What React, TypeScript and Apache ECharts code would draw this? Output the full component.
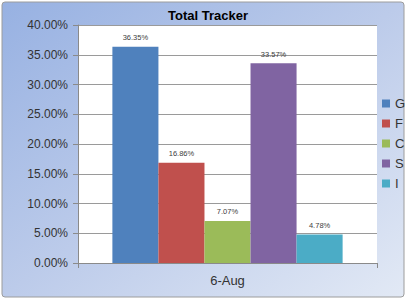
import React, { useEffect, useRef } from "react";
import * as echarts from "echarts";

const categories = ["6-Aug"];
const seriesNames = ["G", "F", "C", "S", "I"];
const seriesValues = [0.3635, 0.1686, 0.0707, 0.3357, 0.0478];
const seriesColors = ["#4F81BD", "#C0504D", "#9BBB59", "#8064A2", "#4BACC6"];
const yTicks = { min: 0, max: 0.4, interval: 0.05 };

const FONT = "'Liberation Sans', Arial, sans-serif";

export default function App() {
  const ref = useRef<HTMLDivElement>(null);
  useEffect(() => {
    if (!ref.current) return;
    const chart = echarts.init(ref.current, null, { renderer: "svg" });
    chart.setOption({
      animation: false,
      backgroundColor: "#ffffff",
      graphic: [
        {
          type: "rect",
          z: -10,
          silent: true,
          shape: { x: 2, y: 2, width: 402, height: 295, r: 3 },
          style: {
            fill: new echarts.graphic.LinearGradient(0, 0, 1, 1, [
              { offset: 0, color: "#97b1e2" },
              { offset: 0.5, color: "#bccbea" },
              { offset: 1, color: "#e2e9f5" },
            ]),
            stroke: "#9c9c9c",
            lineWidth: 1,
          },
        },
      ],
      title: {
        text: "Total Tracker",
        left: 203,
        top: 4,
        textAlign: "center",
        textStyle: { fontFamily: FONT, fontSize: 13, fontWeight: "bold", color: "#000" },
      },
      legend: {
        orient: "vertical",
        left: 382,
        top: 97,
        padding: 0,
        itemWidth: 8,
        itemHeight: 8,
        itemGap: 7,
        icon: "rect",
        data: seriesNames,
        textStyle: { fontFamily: FONT, fontSize: 13, color: "#333" },
      },
      grid: {
        left: 78,
        right: 30,
        top: 25,
        bottom: 37,
        show: true,
        backgroundColor: "#ffffff",
        borderWidth: 0,
      },
      xAxis: {
        type: "category",
        data: categories,
        axisLine: { show: true, lineStyle: { color: "#8a8a8a", width: 1 } },
        axisTick: { show: true, length: 5, lineStyle: { color: "#8a8a8a" } },
        axisLabel: { fontFamily: FONT, fontSize: 13, color: "#333", margin: 11 },
      },
      yAxis: {
        type: "value",
        min: yTicks.min,
        max: yTicks.max,
        interval: yTicks.interval,
        axisLine: { show: true, lineStyle: { color: "#8a8a8a", width: 1 } },
        axisTick: { show: true, length: 5, lineStyle: { color: "#8a8a8a" } },
        splitLine: { show: true, lineStyle: { color: "#9a9a9a", width: 1 } },
        axisLabel: {
          fontFamily: FONT,
          fontSize: 12,
          color: "#333",
          margin: 10,
          formatter: (v: number) => (v * 100).toFixed(2) + "%",
        },
      },
      series: seriesNames.map((name, i) => ({
        name,
        type: "bar",
        data: [seriesValues[i]],
        barGap: "0%",
        barCategoryGap: "23%",
        itemStyle: { color: seriesColors[i] },
        label: {
          show: true,
          position: "top",
          distance: 5,
          fontFamily: FONT,
          fontSize: 7.5,
          color: "#404040",
          formatter: (p: any) => (p.value * 100).toFixed(2) + "%",
        },
      })),
    });
    return () => chart.dispose();
  }, []);
  return (
    <div
      ref={ref}
      style={{ position: "fixed", left: 0, top: 0, width: 407, height: 300 }}
    />
  );
}
